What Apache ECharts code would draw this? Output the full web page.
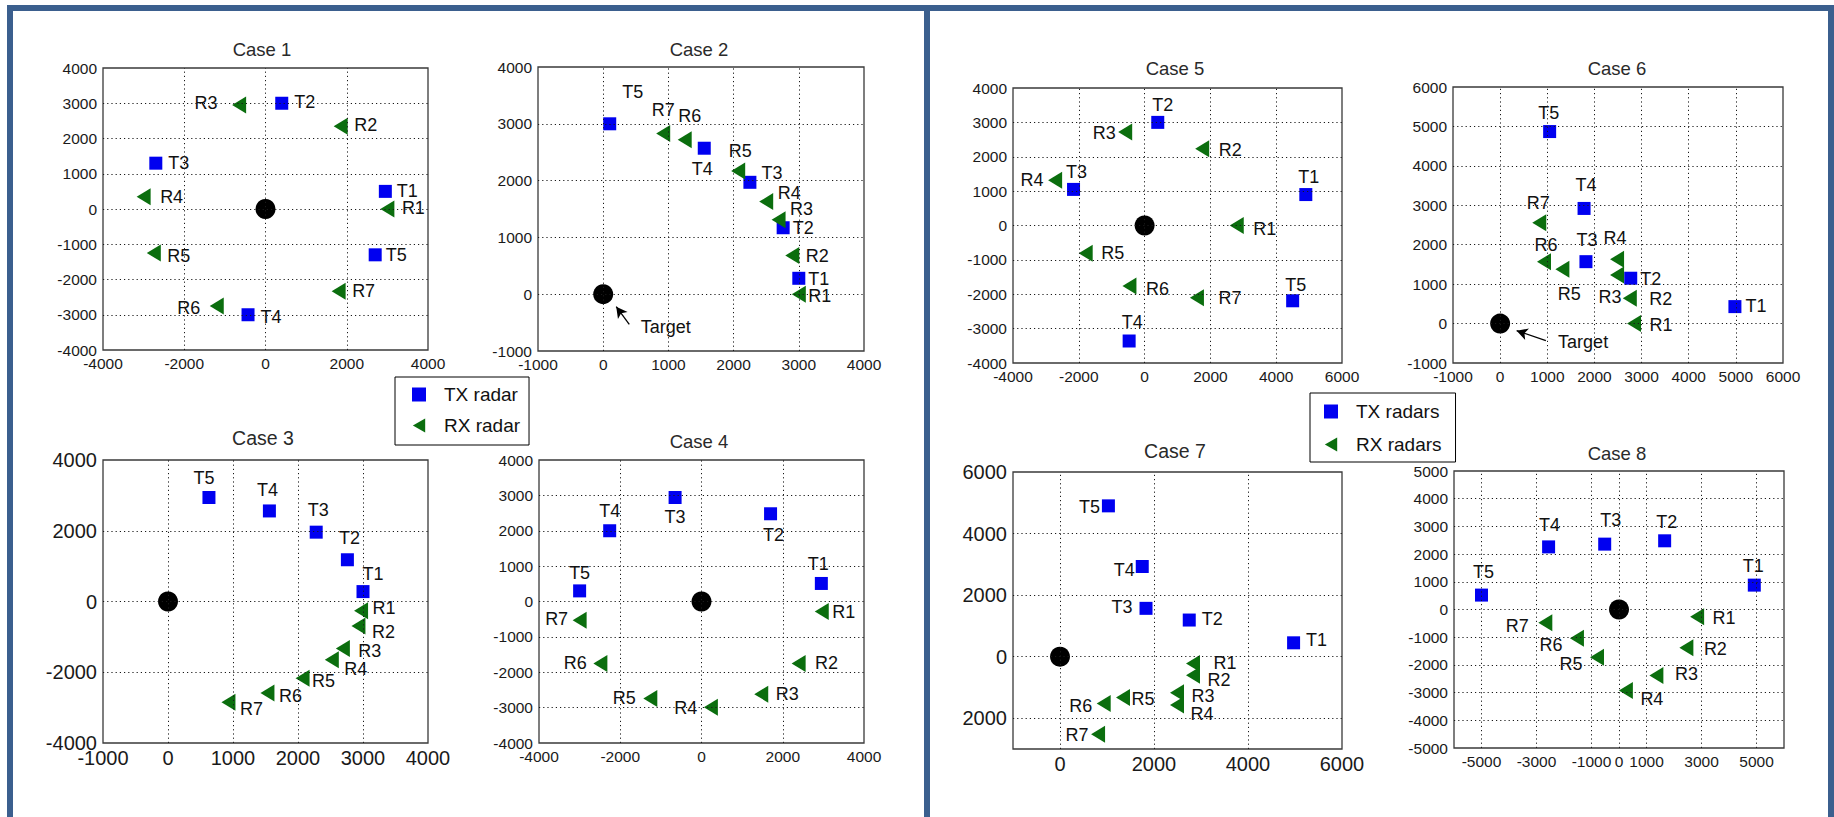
<!DOCTYPE html>
<html><head><meta charset="utf-8">
<script src="https://cdn.jsdelivr.net/npm/echarts@6/dist/echarts.min.js"></script>
<style>html,body{margin:0;padding:0;background:#fff}#c{width:1834px;height:817px}</style>
</head><body><div id="c"></div>
<script>
// ---------------- DATA ----------------
const caseTitles = ['Case 1','Case 2','Case 3','Case 4','Case 5','Case 6','Case 7','Case 8'];
const targetPos = [0, 0];

// TX radars T1..T5, RX radars R1..R7  ([x, y] in metres)
const case1Tx = [[2950,500],[400,3000],[-2700,1300],[-430,-3000],[2700,-1300]];
const case1Rx = [[3000,0],[1850,2350],[-650,2950],[-3000,350],[-2750,-1250],[-1200,-2750],[1800,-2330]];
const case2Tx = [[3000,280],[2760,1170],[2250,1970],[1550,2570],[100,3000]];
const case2Rx = [[3000,0],[2900,680],[2690,1310],[2500,1630],[2070,2170],[1250,2720],[920,2830]];
const case3Tx = [[3000,280],[2760,1180],[2280,1960],[1560,2560],[630,2940]];
const case3Rx = [[2970,-260],[2930,-690],[2690,-1330],[2520,-1650],[2070,-2170],[1530,-2590],[930,-2850]];
const case4Tx = [[2950,510],[1700,2480],[-650,2940],[-2260,2000],[-3000,300]];
const case4Rx = [[2960,-280],[2390,-1750],[1470,-2620],[230,-2990],[-1260,-2740],[-2490,-1750],[-3000,-530]];
const case5Tx = [[4900,900],[400,3000],[-2160,1050],[-470,-3360],[4500,-2190]];
const case5Rx = [[2800,0],[1750,2230],[-590,2720],[-2720,1320],[-1790,-810],[-460,-1760],[1590,-2100]];
const case6Tx = [[4980,430],[2770,1150],[1820,1570],[1780,2920],[1050,4870]];
const case6Rx = [[2840,0],[2750,640],[2480,1230],[2480,1630],[1320,1380],[930,1570],[830,2560]];
const case7Tx = [[4970,450],[2750,1190],[1830,1570],[1750,2930],[1030,4900]];
const case7Rx = [[2830,-220],[2830,-600],[2490,-1170],[2490,-1570],[1340,-1330],[930,-1520],[810,-2520]];
const case8Tx = [[4920,880],[1660,2480],[-520,2360],[-2560,2260],[-5000,520]];
const case8Rx = [[2840,-260],[2450,-1380],[1360,-2380],[250,-2920],[-800,-1720],[-1530,-1040],[-2680,-480]];

// axis ranges and tick values
const case1XRange = [-4000,4000], case1YRange = [-4000,4000];
const case1XTicks = [-4000,-2000,0,2000,4000];
const case1YTicks = [-4000,-3000,-2000,-1000,0,1000,2000,3000,4000];
const case2XRange = [-1000,4000], case2YRange = [-1000,4000];
const case2XTicks = [-1000,0,1000,2000,3000,4000];
const case2YTicks = [-1000,0,1000,2000,3000,4000];
const case3XRange = [-1000,4000], case3YRange = [-4000,4000];
const case3XTicks = [-1000,0,1000,2000,3000,4000];
const case3YTicks = [-4000,-2000,0,2000,4000];
const case4XRange = [-4000,4000], case4YRange = [-4000,4000];
const case4XTicks = [-4000,-2000,0,2000,4000];
const case4YTicks = [-4000,-3000,-2000,-1000,0,1000,2000,3000,4000];
const case5XRange = [-4000,6000], case5YRange = [-4000,4000];
const case5XTicks = [-4000,-2000,0,2000,4000,6000];
const case5YTicks = [-4000,-3000,-2000,-1000,0,1000,2000,3000,4000];
const case6XRange = [-1000,6000], case6YRange = [-1000,6000];
const case6XTicks = [-1000,0,1000,2000,3000,4000,5000,6000];
const case6YTicks = [-1000,0,1000,2000,3000,4000,5000,6000];
const case7XRange = [-1000,6000], case7YRange = [-3000,6000];
const case7XTicks = [0,2000,4000,6000];
const case7YTicks = [-2000,0,2000,4000,6000];
const case7YTickLabels = ['2000','0','2000','4000','6000'];
const case8XRange = [-6000,6000], case8YRange = [-5000,5000];
const case8XTicks = [-5000,-3000,-1000,0,1000,3000,5000];
const case8YTicks = [-5000,-4000,-3000,-2000,-1000,0,1000,2000,3000,4000,5000];

// "Target" annotations (cases 2 and 6): text anchor, arrow tail, arrow tip
const case2TargetNote = {text:[960,-570], from:[400,-530], to:[200,-220]};
const case6TargetNote = {text:[1760,-480], from:[970,-430], to:[350,-180]};

// ---------------- LAYOUT / STYLE ----------------
const gridBoxes = [[103,68,325,282],[538,67,326,284],[103,460,325,283],[539,460,325,283],
                   [1013,88,329,275],[1453,87,330,276],[1013,472,329,277],[1454,471,330,277]];
const titleCenters = [[262,49],[699,49],[263,438],[699,441],[1175,68],[1617,68],[1175,451],[1617,453]];
const titleSizes = [18.5,18.5,19.5,18.5,18.5,18.5,19.5,18.5];
const tickFontSizes = [15.5,15.5,20,15.5,15.5,15.5,20,15.5];

// label offsets (px) relative to marker centre
const case1TxOff = [[22,0],[23,-1],[23,0],[23,2],[21,0]];
const case1RxOff = [[26,-1],[25,-1],[-33,-2],[28,0],[25,3],[-28,2],[25,0]];
const case2TxOff = [[20,1],[20,0],[22,-9],[-2,21],[23,-32]];
const case2RxOff = [[21,2],[25,0],[23,-11],[23,-9],[2,-20],[5,-24],[0,-23]];
const case3TxOff = [[10,-18],[2,-22],[2,-22],[-2,-21],[-5,-19]];
const case3RxOff = [[23,-3],[25,6],[27,2],[24,9],[21,3],[23,3],[23,7]];
const case4TxOff = [[-3,-19],[3,21],[0,20],[0,-20],[0,-18]];
const case4RxOff = [[22,1],[28,0],[26,0],[-25,1],[-26,0],[-25,0],[-23,-1]];
const case5TxOff = [[3,-18],[5,-17],[3,-17],[3,-19],[3,-16]];
const case5RxOff = [[28,3],[28,1],[-21,1],[-23,0],[27,0],[28,3],[33,0]];
const case6TxOff = [[21,-1],[20,1],[1,-22],[2,-23],[-1,-19]];
const case6RxOff = [[27,1],[31,1],[-7,22],[-2,-21],[7,25],[2,-17],[-1,-20]];
const case7TxOff = [[23,-3],[23,-1],[-24,-1],[-18,4],[-19,1]];
const case7RxOff = [[32,0],[26,5],[26,3],[25,9],[20,1],[-23,3],[-21,1]];
const case8TxOff = [[-1,-19],[2,-19],[6,-24],[1,-22],[2,-23]];
const case8RxOff = [[27,1],[29,1],[30,-1],[26,9],[-26,7],[-26,7],[-28,3]];

const FONT = '"Liberation Sans", Arial, Helvetica, sans-serif';
const BLUE = '#0000f0', GREEN = '#0b6e0e', FRAME = '#3b5f8e';
const SQUARE = 'path://M0,0H10V10H0Z';
const TRI = 'path://M0,50L88,0L88,100Z';

const cases = [
  {tx:case1Tx, rx:case1Rx, xr:case1XRange, yr:case1YRange, xt:case1XTicks, yt:case1YTicks, txo:case1TxOff, rxo:case1RxOff},
  {tx:case2Tx, rx:case2Rx, xr:case2XRange, yr:case2YRange, xt:case2XTicks, yt:case2YTicks, txo:case2TxOff, rxo:case2RxOff, note:case2TargetNote},
  {tx:case3Tx, rx:case3Rx, xr:case3XRange, yr:case3YRange, xt:case3XTicks, yt:case3YTicks, txo:case3TxOff, rxo:case3RxOff},
  {tx:case4Tx, rx:case4Rx, xr:case4XRange, yr:case4YRange, xt:case4XTicks, yt:case4YTicks, txo:case4TxOff, rxo:case4RxOff},
  {tx:case5Tx, rx:case5Rx, xr:case5XRange, yr:case5YRange, xt:case5XTicks, yt:case5YTicks, txo:case5TxOff, rxo:case5RxOff},
  {tx:case6Tx, rx:case6Rx, xr:case6XRange, yr:case6YRange, xt:case6XTicks, yt:case6YTicks, txo:case6TxOff, rxo:case6RxOff, note:case6TargetNote},
  {tx:case7Tx, rx:case7Rx, xr:case7XRange, yr:case7YRange, xt:case7XTicks, yt:case7YTicks, ytl:case7YTickLabels, txo:case7TxOff, rxo:case7RxOff},
  {tx:case8Tx, rx:case8Rx, xr:case8XRange, yr:case8YRange, xt:case8XTicks, yt:case8YTicks, txo:case8TxOff, rxo:case8RxOff}
];

const grid = [], xAxis = [], yAxis = [], series = [], graphic = [];

function tickFormatter(ticks, labels) {
  return function (v) {
    const k = ticks.indexOf(v);
    if (k < 0) return '';
    return labels ? labels[k] : String(v);
  };
}

cases.forEach(function (c, i) {
  const b = gridBoxes[i];
  grid.push({left:b[0], top:b[1], width:b[2], height:b[3], show:true, borderColor:'#3a3a3a', borderWidth:1.3, backgroundColor:'#fff'});
  const axisCommon = {
    type:'value', interval:1000, axisLine:{show:false}, axisTick:{show:false}, splitLine:{show:false}
  };
  xAxis.push(Object.assign({}, axisCommon, {gridIndex:i, min:c.xr[0], max:c.xr[1],
    axisLabel:{fontSize:tickFontSizes[i], color:'#1a1a1a', fontFamily:FONT, margin:5, formatter:tickFormatter(c.xt, c.xtl)}}));
  yAxis.push(Object.assign({}, axisCommon, {gridIndex:i, min:c.yr[0], max:c.yr[1],
    axisLabel:{fontSize:tickFontSizes[i], color:'#1a1a1a', fontFamily:FONT, margin:6, formatter:tickFormatter(c.yt, c.ytl)}}));

  // dotted grid lines at the tick values
  const gl = c.xt.filter(v => v > c.xr[0] && v < c.xr[1]).map(v => ({xAxis:v}))
    .concat(c.yt.filter(v => v > c.yr[0] && v < c.yr[1]).map(v => ({yAxis:v})));
  series.push({
    type:'scatter', name:'grid' + i, xAxisIndex:i, yAxisIndex:i, data:[], silent:true, z:1,
    markLine:{silent:true, symbol:['none','none'], animation:false, label:{show:false},
      lineStyle:{color:'#1a1a1a', width:1, type:[1.2,3], opacity:1}, emphasis:{disabled:true}, data:gl}
  });

  const left = i < 4;
  const labelStyle = {show:true, position:'inside', fontSize:18, fontFamily:FONT, color:'#111', formatter:'{b}'};
  series.push({
    type:'scatter', name: left ? 'TX radar' : 'TX radars', xAxisIndex:i, yAxisIndex:i, z:3,
    symbol:SQUARE, symbolSize:13, itemStyle:{color:BLUE, opacity:1}, label:labelStyle, animation:false,
    data: c.tx.map((p, k) => ({name:'T' + (k + 1), value:p, label:{offset:c.txo[k]}}))
  });
  series.push({
    type:'scatter', name: left ? 'RX radar' : 'RX radars', xAxisIndex:i, yAxisIndex:i, z:3,
    symbol:TRI, symbolSize:[14,17], itemStyle:{color:GREEN, opacity:1}, label:labelStyle, animation:false,
    data: c.rx.map((p, k) => ({name:'R' + (k + 1), value:p, label:{offset:c.rxo[k]}}))
  });
  const tgt = {
    type:'scatter', name:'target' + i, xAxisIndex:i, yAxisIndex:i, z:4, animation:false,
    symbol:'circle', symbolSize:20, itemStyle:{color:'#000', opacity:1}, data:[targetPos]
  };
  if (c.note) {
    tgt.markLine = {silent:true, animation:false, symbol:['none','arrow'], symbolSize:[9,11], label:{show:false},
      lineStyle:{color:'#000', width:1.3, type:'solid', opacity:1}, data:[[{coord:c.note.from}, {coord:c.note.to}]]};
    tgt.markPoint = {silent:true, animation:false, symbol:'circle', symbolSize:1, itemStyle:{color:'rgba(0,0,0,0)'},
      label:{show:true, position:'inside', formatter:'Target', fontSize:18, fontFamily:FONT, color:'#111'},
      data:[{coord:c.note.text}]};
  }
  series.push(tgt);

  graphic.push({type:'text', x:titleCenters[i][0], y:titleCenters[i][1], silent:true,
    style:{text:caseTitles[i], font:'normal ' + titleSizes[i] + 'px ' + FONT, fill:'#2a2a2a',
      textAlign:'center', textVerticalAlign:'middle', align:'center', verticalAlign:'middle'}});
});

// blue frame
[[7,5,1827,6],[7,5,6,812],[924,5,6,812],[1828,5,6,812]].forEach(function (r) {
  graphic.push({type:'rect', shape:{x:r[0], y:r[1], width:r[2], height:r[3]}, style:{fill:FRAME}, silent:true, z:10});
});

const legendCommon = {
  orient:'vertical', selectedMode:false, itemWidth:40, itemHeight:14,
  borderColor:'#000', borderWidth:1, backgroundColor:'#fff', borderRadius:0,
  itemStyle:{opacity:1},
  textStyle:{fontSize:19, fontFamily:FONT, color:'#111'}
};
const legend = [
  Object.assign({}, legendCommon, {left:395, top:377, padding:[8,9,10,17], itemGap:12,
    data:[{name:'TX radar', icon:SQUARE}, {name:'RX radar', icon:TRI}]}),
  Object.assign({}, legendCommon, {left:1310, top:393, padding:[9,14,8,14], itemGap:14,
    data:[{name:'TX radars', icon:SQUARE}, {name:'RX radars', icon:TRI}]})
];

const chart = echarts.init(document.getElementById('c'), null, {renderer:'svg'});
chart.setOption({animation:false, backgroundColor:'#fff', grid, xAxis, yAxis, series, legend, graphic});
</script>
</body></html>
